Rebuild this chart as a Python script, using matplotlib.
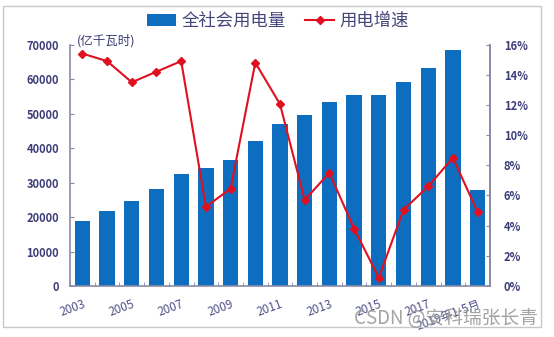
import numpy as np
import matplotlib.pyplot as plt
from matplotlib.patches import Rectangle

plt.rcParams['font.family'] = ['Noto Sans CJK SC', 'DejaVu Sans']

# data
years = ['2003', '2004', '2005', '2006', '2007', '2008', '2009', '2010', '2011',
         '2012', '2013', '2014', '2015', '2016', '2017', '2018', '2019年1-5月']
usage = [18900, 21750, 24700, 28250, 32500, 34300, 36500, 41900, 46950,
         49600, 53250, 55250, 55500, 59200, 63100, 68450, 27800]
growth = [15.4, 14.9, 13.5, 14.2, 14.9, 5.25, 6.45, 14.8, 12.05,
          5.7, 7.5, 3.8, 0.55, 5.05, 6.6, 8.5, 4.9]

txt_color = '#3c3c78'
axis_color = '#8a8aa8'

fig = plt.figure(figsize=(5.54, 3.37), dpi=100)
fig.patches.append(Rectangle((3 / 554, 1 - 327 / 337), 538 / 554, 321 / 337,
                             transform=fig.transFigure, fill=False,
                             edgecolor='#c8c8c8', linewidth=1))

ax = fig.add_axes([0.1264, 0.1513, 0.758, 0.7166])
x = np.arange(len(years))
bars = ax.bar(x, usage, width=0.62, color='#0d6ebf', label='全社会用电量', zorder=2)
ax.set_xlim(-0.5, len(years) - 0.5)
ax.set_ylim(0, 70000)
ax.set_yticks(np.arange(0, 70001, 10000))
ax.set_xticks(x[::2])
ax.set_xticklabels(years[::2], rotation=20, ha='right', rotation_mode='anchor',
                   fontsize=8.5, color='#50508a')
ax.set_xticks(np.arange(-0.5, len(years), 1), minor=True)
ax.tick_params(axis='x', which='major', length=0, pad=8)
ax.tick_params(axis='x', which='minor', direction='in', length=3, color=axis_color)
ax.tick_params(axis='y', direction='in', length=3, color=axis_color,
               labelsize=8, labelcolor=txt_color, pad=8)
for lbl in ax.get_yticklabels():
    lbl.set_fontweight('bold')
ax.spines['top'].set_visible(False)
for s in ['left', 'bottom', 'right']:
    ax.spines[s].set_color(axis_color)
    ax.spines[s].set_linewidth(1.2)

ax2 = ax.twinx()
line, = ax2.plot(x, growth, color='#e01020', linewidth=1.5, marker='D',
                 markersize=4.5, label='用电增速', zorder=3)
ax2.set_ylim(0, 16)
ax2.set_yticks(np.arange(0, 17, 2))
ax2.set_yticklabels([f'{v}%' for v in range(0, 17, 2)], fontweight='bold')
ax2.tick_params(axis='y', direction='in', length=3, color=axis_color,
                labelsize=8, labelcolor=txt_color, pad=10)
for s in ['top', 'left', 'bottom']:
    ax2.spines[s].set_visible(False)
ax2.spines['right'].set_color(axis_color)
ax2.spines['right'].set_linewidth(1.2)

fig.text(77 / 554, 1 - 45 / 337, '(亿千瓦时)', fontsize=9, color=txt_color,
         va='baseline')

fig.legend([bars, line], ['全社会用电量', '用电增速'], loc='center',
           bbox_to_anchor=(278 / 554, 1 - 21 / 337), ncol=2, frameon=False,
           fontsize=12.5, labelcolor='#45457a', handlelength=1.7,
           columnspacing=1.1, handletextpad=0.3)

fig.text(538 / 554, 1 - 318 / 337, 'CSDN @安科瑞张长青', fontsize=13.5,
         color='#9a9a9a', ha='right', va='center', alpha=0.9)

fig.savefig('out.png', dpi=100)
plt.close(fig)
